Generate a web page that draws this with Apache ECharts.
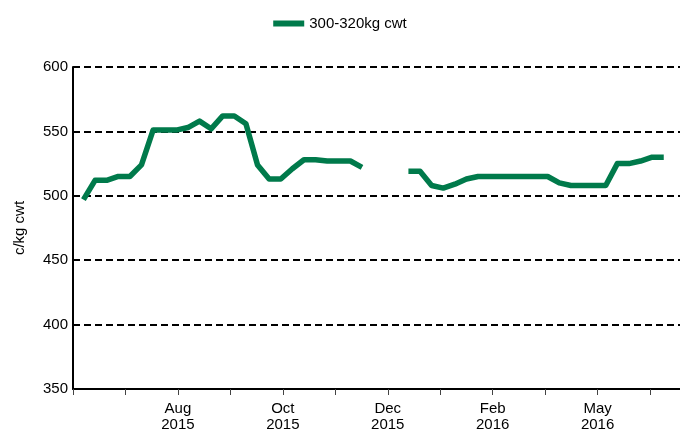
<!DOCTYPE html>
<html>
<head>
<meta charset="utf-8">
<script src="https://cdn.jsdelivr.net/npm/echarts@6/dist/echarts.min.js"></script>
<style>
  html, body { margin: 0; padding: 0; background: #fff; }
  #chart { width: 680px; height: 433px; }
</style>
</head>
<body>
<div id="chart"></div>
<script>
// weekly prices, 300-320kg cwt (c/kg cwt); null = no sale (Christmas break)
const weeks = Array.from({ length: 51 }, (_, i) => i);
const prices = [
  497, 512, 512, 515, 515, 524, 551, 551, 551, 553,
  558, 552, 562, 562, 556, 524, 513, 513, 521, 528,
  528, 527, 527, 527, 522, null, null, null, 519, 519,
  508, 506, 509, 513, 515, 515, 515, 515, 515, 515,
  515, 510, 508, 508, 508, 508, 525, 525, 527, 530,
  530
];

// x axis tick positions (in week units) and the labelled ones
const tickWeeks = [-0.9, 3.62, 8.14, 12.66, 17.18, 21.7, 26.22, 30.74, 35.26, 39.78, 44.3, 48.82];
const labelWeeks = [8.14, 17.18, 26.22, 35.26, 44.3];
const labelText = ['Aug\n2015', 'Oct\n2015', 'Dec\n2015', 'Feb\n2016', 'May\n2016'];

const GREEN = '#007a4b';
const FONT = '"Liberation Sans", Arial, sans-serif';

const chart = echarts.init(document.getElementById('chart'), null, { renderer: 'canvas' });

chart.setOption({
  backgroundColor: '#fff',
  animation: false,
  textStyle: { fontFamily: FONT },
  legend: {
    top: 11, left: 'center',
    itemWidth: 31, itemHeight: 6, icon: 'rect', itemGap: 8,
    textStyle: { color: '#000', fontSize: 15, fontFamily: FONT },
    data: ['300-320kg cwt'],
  },
  grid: { left: 73, right: 0, top: 67, bottom: 43, containLabel: false },
  xAxis: {
    type: 'value',
    min: -0.9,
    max: 51.4,
    axisLine: { show: true, onZero: false, lineStyle: { color: '#000', width: 2 } },
    axisTick: { show: true, customValues: tickWeeks, length: 6, lineStyle: { color: '#444', width: 1 } },
    splitLine: { show: false },
    axisLabel: {
      customValues: labelWeeks,
      color: '#000', fontSize: 15, lineHeight: 16, margin: 12,
      formatter: v => {
        let best = 0;
        labelWeeks.forEach((w, i) => { if (Math.abs(w - v) < Math.abs(labelWeeks[best] - v)) best = i; });
        return labelText[best];
      },
    },
  },
  yAxis: {
    type: 'value',
    min: 350, max: 600, interval: 50,
    name: 'c/kg cwt',
    nameLocation: 'middle',
    nameRotate: 90,
    nameGap: 46,
    nameTextStyle: { color: '#000', fontSize: 15, fontFamily: FONT },
    axisLine: { show: true, onZero: false, lineStyle: { color: '#000', width: 2 } },
    axisTick: { show: false },
    axisLabel: { color: '#000', fontSize: 15, margin: 5 },
    splitLine: { show: true, lineStyle: { color: '#000', width: 2, type: [7, 4] } },
  },
  series: [{
    name: '300-320kg cwt',
    type: 'line',
    data: weeks.map((w, i) => [w, prices[i]]),
    showSymbol: false,
    connectNulls: false,
    lineStyle: { color: GREEN, width: 5.5, join: 'round' },
    itemStyle: { color: GREEN },
  }],
});
</script>
</body>
</html>
